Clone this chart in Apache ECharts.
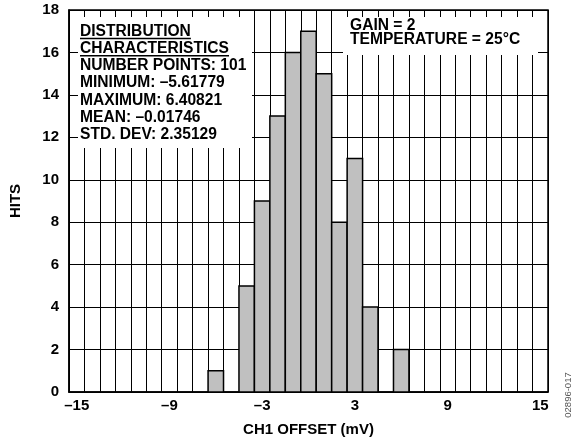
<!DOCTYPE html>
<html><head><meta charset="utf-8">
<script src="https://cdn.jsdelivr.net/npm/echarts@6/dist/echarts.min.js"></script>
<style>html,body{margin:0;padding:0;background:#fff}#c{width:574px;height:442px}</style>
</head><body><div id="c"></div>
<script>
// ---- data ----
const binCenters = [-6, -4, -3, -2, -1, 0, 1, 2, 3, 4, 6];
const hits = [1, 5, 9, 13, 16, 17, 15, 8, 11, 4, 2];
const xTickLabels = [-15, -9, -3, 3, 9, 15];
const statsTitle = ['DISTRIBUTION', 'CHARACTERISTICS'];
const statsLines = ['NUMBER POINTS: 101', 'MINIMUM: \u20135.61779', 'MAXIMUM: 6.40821', 'MEAN: \u20130.01746', 'STD. DEV: 2.35129'];
const condLines = ['GAIN = 2', 'TEMPERATURE = 25\u00B0C'];
const xName = 'CH1 OFFSET (mV)';
const yName = 'HITS';
const figId = '02896-017';

// ---- styles ----
const FONT = '"Liberation Sans", Arial, Helvetica, sans-serif';
const BOXFONT = 'bold 15.6px ' + FONT;
const fmt = v => v < 0 ? '\u2013' + Math.abs(v) : String(v);

const ctx = document.createElement('canvas').getContext('2d');
ctx.font = BOXFONT;
const textW = s => ctx.measureText(s).width;

const chart = echarts.init(document.getElementById('c'), null, {renderer: 'canvas'});

const graphics = [];
// white annotation boxes
graphics.push({type: 'rect', z: 3, shape: {x: 78, y: 17, width: 174, height: 131}, style: {fill: '#fff'}});
graphics.push({type: 'rect', z: 3, shape: {x: 343, y: 17, width: 195, height: 38}, style: {fill: '#fff'}});

const LH = 17.25;
const boxX = 80;
let y0 = 31.2;
const allStats = statsTitle.concat(statsLines);
allStats.forEach((s, i) => {
  const yy = y0 + i * LH;
  graphics.push({type: 'text', z: 10, x: boxX, y: yy,
    style: {text: s, font: BOXFONT, fill: '#000', align: 'left', verticalAlign: 'middle'}});
  if (i < statsTitle.length) {
    const uy = yy + 7.3;
    graphics.push({type: 'line', z: 10, shape: {x1: boxX, y1: uy, x2: boxX + textW(s), y2: uy},
      style: {stroke: '#000', lineWidth: 1.5}});
  }
});
condLines.forEach((s, i) => {
  graphics.push({type: 'text', z: 10, x: 350, y: 25.3 + i * 14.8,
    style: {text: s, font: BOXFONT, fill: '#000', align: 'left', verticalAlign: 'middle'}});
});
graphics.push({type: 'text', z: 10, x: 568, y: 395, rotation: Math.PI / 2,
  style: {text: figId, font: '9.5px ' + FONT, fill: '#555', align: 'center', verticalAlign: 'middle'}});

const labelStyle = {color: '#000', fontFamily: FONT, fontWeight: 'bold', fontSize: 15};

chart.setOption({
  animation: false,
  backgroundColor: '#fff',
  grid: {left: 69, right: 26, top: 10, bottom: 49, show: true, borderColor: '#000', borderWidth: 1.5, backgroundColor: 'transparent'},
  xAxis: [
    {type: 'value', min: -15.5, max: 15.5, interval: 1, position: 'bottom', z: 0,
      axisLine: {show: true, onZero: false, lineStyle: {color: '#000', width: 1.5}},
      axisTick: {show: false},
      splitLine: {show: true, lineStyle: {color: '#000', width: 1}},
      axisLabel: Object.assign({customValues: xTickLabels, formatter: fmt, margin: 6}, labelStyle),
      name: xName, nameLocation: 'middle', nameGap: 30,
      nameTextStyle: {color: '#000', fontFamily: FONT, fontWeight: 'bold', fontSize: 15}},
    {type: 'value', min: -15.5, max: 15.5, interval: 1, position: 'top', z: 5,
      axisLine: {show: false, onZero: false},
      axisTick: {show: true, inside: true, length: 7, lineStyle: {color: '#000', width: 1}},
      axisLabel: {show: false}, splitLine: {show: false}}
  ],
  yAxis: [
    {type: 'value', min: 0, max: 18, interval: 2, position: 'left', z: 0,
      axisLine: {show: true, onZero: false, lineStyle: {color: '#000', width: 1.5}},
      axisTick: {show: false},
      splitLine: {show: true, lineStyle: {color: '#000', width: 1}},
      axisLabel: Object.assign({margin: 10}, labelStyle),
      name: yName, nameLocation: 'middle', nameGap: 46,
      nameTextStyle: {color: '#000', fontFamily: FONT, fontWeight: 'bold', fontSize: 15}},
    {type: 'value', min: 0, max: 18, interval: 2, position: 'left', z: 5,
      axisLine: {show: false, onZero: false},
      axisTick: {show: true, inside: true, length: 9, lineStyle: {color: '#000', width: 1}},
      axisLabel: {show: false}, splitLine: {show: false}}
  ],
  series: [{
    type: 'custom', z: 4, xAxisIndex: 0, yAxisIndex: 0,
    data: binCenters.map((c, i) => [c, hits[i]]),
    encode: {x: 0, y: 1},
    renderItem: function (params, api) {
      const x = api.value(0), y = api.value(1);
      const p0 = api.coord([x - 0.5, y]);
      const p1 = api.coord([x + 0.5, 0]);
      return {type: 'rect', shape: {x: p0[0], y: p0[1], width: p1[0] - p0[0], height: p1[1] - p0[1]},
        style: {fill: '#c0c0c0', stroke: '#000', lineWidth: 1.5}};
    }
  }],
  graphic: {elements: graphics}
});
</script>
</body></html>
